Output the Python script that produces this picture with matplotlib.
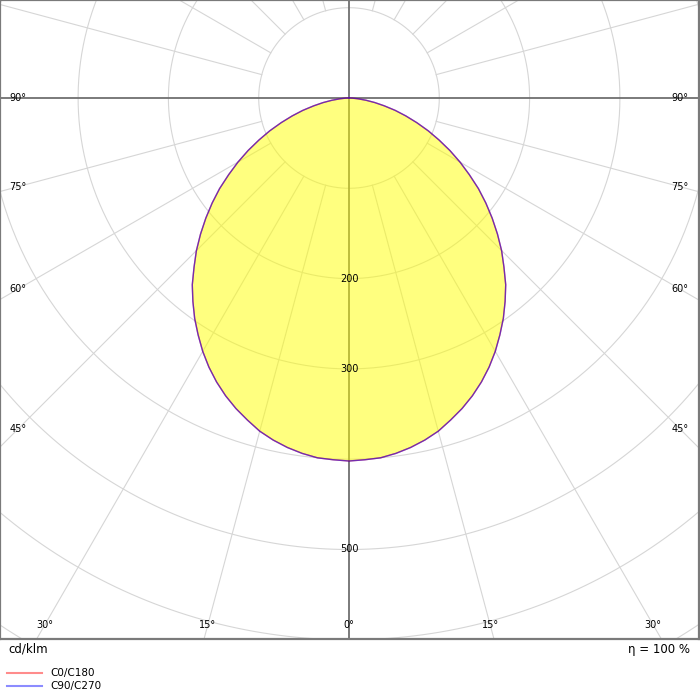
import matplotlib
matplotlib.use("Agg")
import matplotlib.pyplot as plt
import numpy as np

# Luminous intensity (cd/klm), gamma from nadir
gamma = [0, 2.5, 5, 7.5, 10, 12.5, 15, 17.5, 20, 22.5, 25, 27.5, 30, 32.5, 35, 37.5,
         40, 42.5, 45, 47.5, 50, 52.5, 55, 57.5, 60, 62.5, 65, 67.5, 70, 72.5, 75,
         77.5, 80, 82.5, 85, 87.5, 90]
c0_c180 = [402, 401, 400, 397, 393, 388, 382, 374, 366, 357, 347, 336, 324, 311, 298, 284,
           270, 254, 239, 223, 207, 191, 175, 158, 142, 126, 110, 95, 80, 66, 53,
           40, 29, 19, 10, 4, 0]
c90_c270 = [402, 401, 400, 397, 393, 388, 382, 374, 366, 357, 347, 336, 324, 311, 298, 284,
            270, 254, 239, 223, 207, 191, 175, 158, 142, 126, 110, 95, 80, 66, 53,
            40, 29, 19, 10, 4, 0]

grid_radii = [100, 200, 300, 400, 500, 600, 700]
radius_labels = [200, 300, 500]
side_angle_labels = [90, 75, 60, 45]
bottom_angle_labels = [0, 15, 30]
series_names = ["C0/C180", "C90/C270"]

W, H = 700, 700
k = 0.903  # px per cd/klm
box_w, box_h = 699, 639
cx, cy = 349, 98  # centre in px inside the box (from top-left)

fig = plt.figure(figsize=(W / 100, H / 100), dpi=100)
ax = fig.add_axes([0, (H - box_h) / H, box_w / W, box_h / H])
ax.set_xlim(-cx / k, (box_w - cx) / k)
ax.set_ylim(-(box_h - cy) / k, cy / k)
ax.set_xticks([])
ax.set_yticks([])
for sp in ax.spines.values():
    sp.set_color("#7a7a7a")
    sp.set_linewidth(1.6)

grid_col = "#d6d6d6"
t = np.linspace(0, 2 * np.pi, 400)
for r in grid_radii:
    ax.plot(r * np.cos(t), r * np.sin(t), color=grid_col, lw=0.8, zorder=1)

for a in range(0, 360, 15):
    if a % 90 == 0:
        continue
    ar = np.radians(a)
    ax.plot([100 * np.sin(ar), 900 * np.sin(ar)], [-100 * np.cos(ar), -900 * np.cos(ar)],
            color=grid_col, lw=0.8, zorder=1)

ax.axhline(0, color="#707070", lw=1.3, zorder=2)
ax.axvline(0, color="#707070", lw=1.3, zorder=2)

g = np.radians(gamma)
for vals, col, al in [(c0_c180, "red", 0.6), (c90_c270, "blue", 0.55)]:
    v = np.array(vals, dtype=float)
    xr = v * np.sin(g)
    yr = -v * np.cos(g)
    xs = np.concatenate([-xr[::-1], xr[1:]])
    ys = np.concatenate([yr[::-1], yr[1:]])
    if col == "red":
        ax.fill(xs, ys, color="#ffff00", alpha=0.5, lw=0, zorder=3)
    ax.plot(xs, ys, color=col, alpha=al, lw=1.0, zorder=4)

fs = 7
for r in radius_labels:
    ax.text(0, -r, str(r), ha="center", va="center", fontsize=fs, zorder=5)

d_side = (cx - 18) / k
for a in side_angle_labels:
    y = 0 if a == 90 else -d_side / np.tan(np.radians(a))
    ax.text(-d_side, y, f"{a}°", ha="center", va="center", fontsize=fs, zorder=5)
    ax.text(d_side, y, f"{a}°", ha="center", va="center", fontsize=fs, zorder=5)

d_bot = (625 - cy) / k
for a in bottom_angle_labels:
    x = d_bot * np.tan(np.radians(a))
    ax.text(x, -d_bot, f"{a}°", ha="center", va="center", fontsize=fs, zorder=5)
    if a != 0:
        ax.text(-x, -d_bot, f"{a}°", ha="center", va="center", fontsize=fs, zorder=5)

fig.text(8 / W, 1 - 649 / H, "cd/klm", ha="left", va="center", fontsize=8.5)
fig.text(690 / W, 1 - 649 / H, "η = 100 %", ha="right", va="center", fontsize=8.5)

for i, (name, col) in enumerate(zip(series_names, ["red", "blue"])):
    yy = 1 - (673 + 13 * i) / H
    fig.add_artist(plt.Line2D([7 / W, 42 / W], [yy, yy], color=col, alpha=0.45, lw=1.5))
    fig.text(50 / W, yy, name, ha="left", va="center", fontsize=7.5)

fig.savefig("out.png", dpi=100)
